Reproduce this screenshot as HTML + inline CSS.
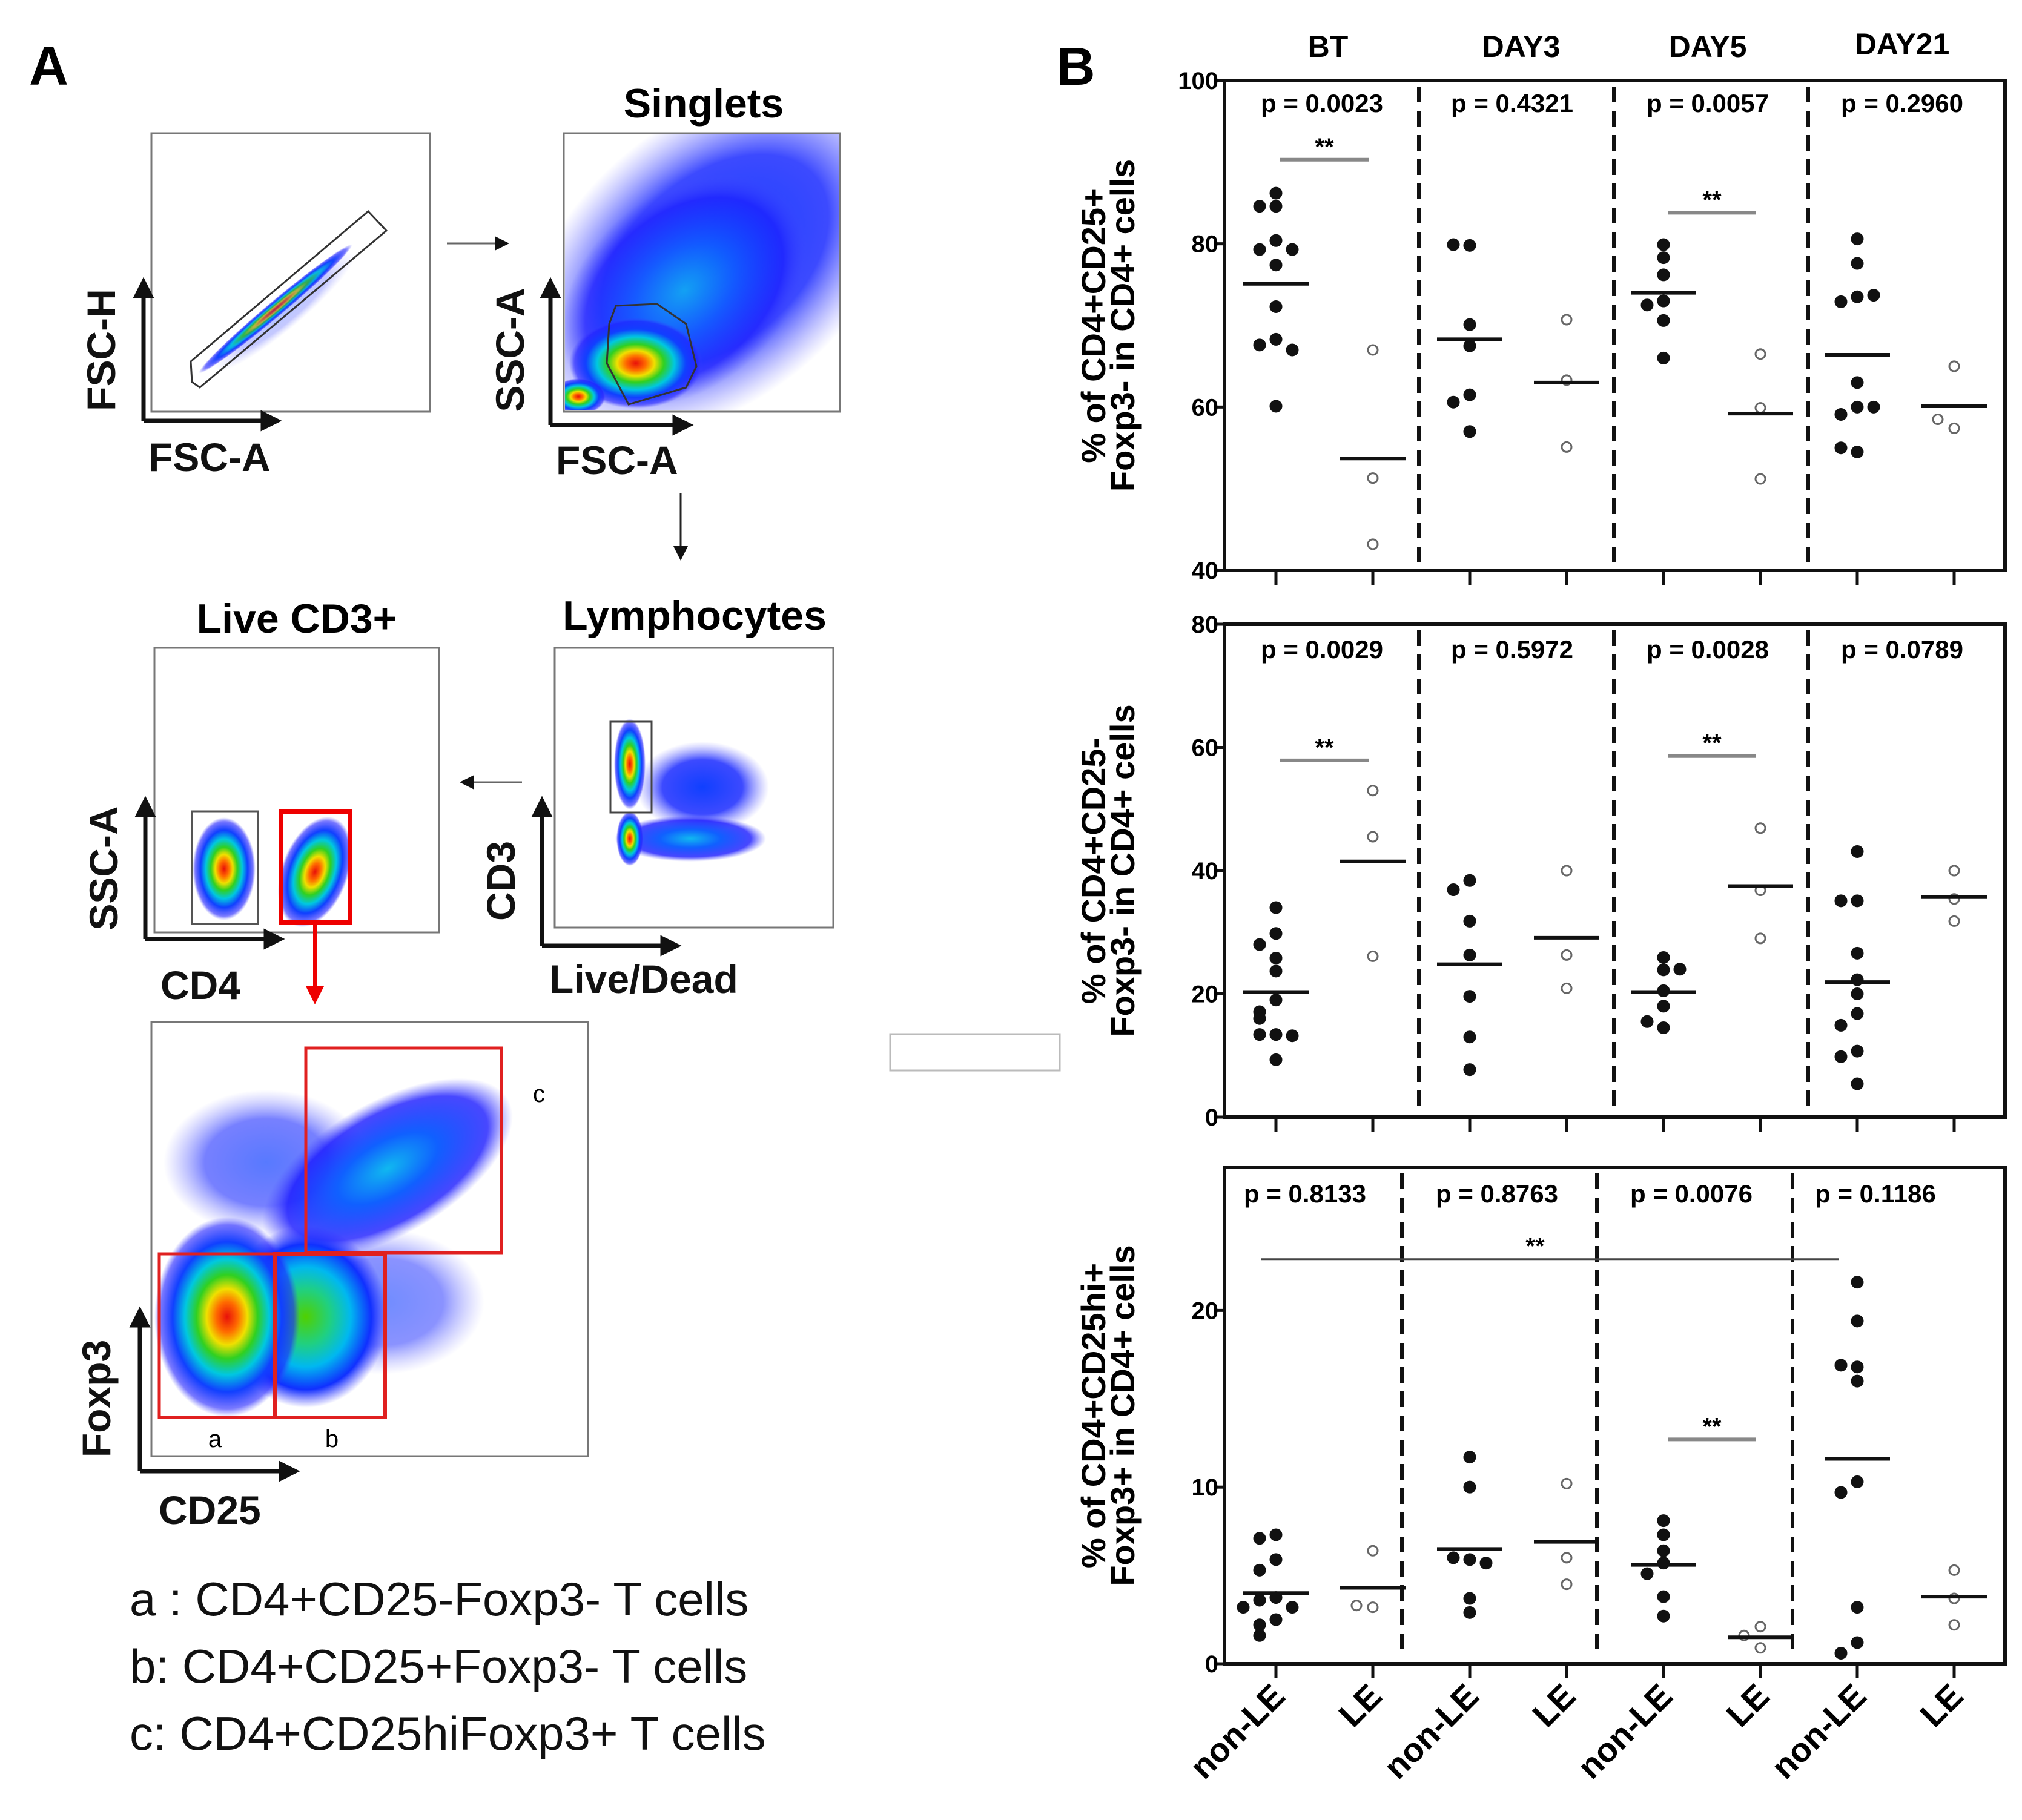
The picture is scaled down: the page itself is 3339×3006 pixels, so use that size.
<!DOCTYPE html>
<html><head><meta charset="utf-8"><style>
html,body{margin:0;padding:0;background:#fff;}
svg{display:block;font-family:"Liberation Sans",sans-serif;}
.ft{font-weight:bold;font-size:66px;fill:#111;}
.nar{font-family:"Liberation Sans Narrow","Liberation Sans",sans-serif;font-weight:bold;}
</style></head><body>
<svg id="fig" width="3339" height="3006" viewBox="0 0 3339 3006" xmlns="http://www.w3.org/2000/svg">
<defs>
<radialGradient id="heat">
<stop offset="0" stop-color="#e8100a"/><stop offset="0.15" stop-color="#ff6a00"/><stop offset="0.28" stop-color="#f0e000"/><stop offset="0.42" stop-color="#30d020"/><stop offset="0.58" stop-color="#00c8e0"/><stop offset="0.75" stop-color="#1040ff"/><stop offset="0.92" stop-color="#2020ff" stop-opacity="0.6"/><stop offset="1" stop-color="#4040ff" stop-opacity="0"/>
</radialGradient>
<radialGradient id="warm">
<stop offset="0" stop-color="#50d000"/><stop offset="0.3" stop-color="#20d080"/><stop offset="0.55" stop-color="#00b8f0"/><stop offset="0.8" stop-color="#1030ff"/><stop offset="1" stop-color="#3030ff" stop-opacity="0"/>
</radialGradient>
<radialGradient id="cool">
<stop offset="0" stop-color="#10b8f0"/><stop offset="0.4" stop-color="#1060ff"/><stop offset="0.8" stop-color="#1a1aff" stop-opacity="0.8"/><stop offset="1" stop-color="#4a4aff" stop-opacity="0"/>
</radialGradient>
<radialGradient id="haze">
<stop offset="0" stop-color="#1040ff"/><stop offset="0.6" stop-color="#1a2aff" stop-opacity="0.85"/><stop offset="1" stop-color="#6a6aff" stop-opacity="0"/>
</radialGradient>
<marker id="ah" markerWidth="5" markerHeight="5" refX="3.5" refY="2.5" orient="auto" markerUnits="strokeWidth"><path d="M0,0 L5,2.5 L0,5 z" fill="#111"/></marker>
<marker id="ahs" markerWidth="8" markerHeight="8" refX="6" refY="4" orient="auto" markerUnits="strokeWidth"><path d="M0,0 L8,4 L0,8 z" fill="#111"/></marker>
<marker id="ahr" markerWidth="5" markerHeight="5" refX="3.5" refY="2.5" orient="auto" markerUnits="strokeWidth"><path d="M0,0 L5,2.5 L0,5 z" fill="#e00"/></marker>
</defs>

<!-- PANEL A -->
<g>
<text x="48" y="140" font-size="90" font-weight="bold">A</text>

<g>
<rect x="250" y="220" width="460" height="460" fill="#fff" stroke="#777" stroke-width="3"/>
<ellipse cx="455" cy="510" rx="165" ry="13" fill="url(#heat)" transform="rotate(-40 455 510)"/>
<ellipse cx="470" cy="515" rx="150" ry="28" fill="url(#haze)" opacity="0.3" transform="rotate(-40 470 515)"/>
<polygon points="317,631 315,597 608,349 638,381 330,640" fill="none" stroke="#333" stroke-width="3"/>
<line x1="237" y1="695" x2="237" y2="468" stroke="#111" stroke-width="7" marker-end="url(#ah)"/>
<line x1="237" y1="695" x2="455" y2="695" stroke="#111" stroke-width="7" marker-end="url(#ah)"/>
<text class="ft" transform="translate(190 578) rotate(-90)" text-anchor="middle">FSC-H</text>
<text class="ft" x="245" y="778">FSC-A</text>
</g>
<line x1="738" y1="402" x2="835" y2="402" stroke="#666" stroke-width="3" marker-end="url(#ahs)"/>

<g>
<rect x="931" y="220" width="456" height="460" fill="#fff" stroke="#777" stroke-width="3"/>
<clipPath id="c2"><rect x="933" y="222" width="452" height="456"/></clipPath>
<g clip-path="url(#c2)">
<ellipse cx="1180" cy="430" rx="360" ry="230" fill="url(#haze)" transform="rotate(-40 1180 430)"/>
<ellipse cx="1130" cy="480" rx="230" ry="160" fill="url(#cool)" opacity="0.8" transform="rotate(-40 1130 480)"/>
<ellipse cx="1050" cy="600" rx="110" ry="75" fill="url(#heat)"/>
<ellipse cx="955" cy="655" rx="45" ry="30" fill="url(#heat)"/>
</g>
<polygon points="1017,505 1085,502 1133,535 1150,605 1133,640 1038,668 1002,600 1006,535" fill="none" stroke="#333" stroke-width="3"/>
<line x1="909" y1="702" x2="909" y2="468" stroke="#111" stroke-width="7" marker-end="url(#ah)"/>
<line x1="909" y1="702" x2="1135" y2="702" stroke="#111" stroke-width="7" marker-end="url(#ah)"/>
<text class="ft" transform="translate(865 578) rotate(-90)" text-anchor="middle">SSC-A</text>
<text class="ft" x="918" y="783">FSC-A</text>
<text x="1162" y="194" font-size="68" font-weight="bold" text-anchor="middle">Singlets</text>
</g>
<line x1="1124" y1="815" x2="1124" y2="920" stroke="#222" stroke-width="3" marker-end="url(#ahs)"/>

<g>
<text x="1147" y="1040" font-size="68" font-weight="bold" text-anchor="middle">Lymphocytes</text>
<rect x="916" y="1070" width="460" height="462" fill="#fff" stroke="#777" stroke-width="3"/>
<ellipse cx="1160" cy="1300" rx="110" ry="75" fill="url(#haze)"/>
<ellipse cx="1140" cy="1385" rx="125" ry="38" fill="url(#cool)"/>
<ellipse cx="1040" cy="1262" rx="26" ry="75" fill="url(#heat)"/>
<ellipse cx="1040" cy="1385" rx="22" ry="45" fill="url(#heat)"/>
<rect x="1008" y="1192" width="68" height="150" fill="none" stroke="#444" stroke-width="3"/>
<line x1="895" y1="1562" x2="895" y2="1325" stroke="#111" stroke-width="7" marker-end="url(#ah)"/>
<line x1="895" y1="1562" x2="1115" y2="1562" stroke="#111" stroke-width="7" marker-end="url(#ah)"/>
<text class="ft" transform="translate(850 1455) rotate(-90)" text-anchor="middle">CD3</text>
<text class="ft" x="907" y="1640">Live/Dead</text>
</g>
<line x1="862" y1="1292" x2="765" y2="1292" stroke="#666" stroke-width="3" marker-end="url(#ahs)"/>

<g>
<text x="490" y="1045" font-size="68" font-weight="bold" text-anchor="middle">Live CD3+</text>
<rect x="255" y="1070" width="470" height="470" fill="#fff" stroke="#777" stroke-width="3"/>
<ellipse cx="370" cy="1435" rx="52" ry="85" fill="url(#heat)"/>
<ellipse cx="520" cy="1440" rx="55" ry="95" fill="url(#heat)" transform="rotate(20 520 1440)"/>
<rect x="317" y="1340" width="109" height="186" fill="none" stroke="#555" stroke-width="3"/>
<rect x="464" y="1340" width="114" height="184" fill="none" stroke="#e00" stroke-width="8"/>
<line x1="240" y1="1551" x2="240" y2="1325" stroke="#111" stroke-width="7" marker-end="url(#ah)"/>
<line x1="240" y1="1551" x2="460" y2="1551" stroke="#111" stroke-width="7" marker-end="url(#ah)"/>
<text class="ft" transform="translate(194 1434) rotate(-90)" text-anchor="middle">SSC-A</text>
<text class="ft" x="265" y="1650">CD4</text>
</g>
<line x1="520" y1="1524" x2="520" y2="1650" stroke="#e00" stroke-width="6" marker-end="url(#ahr)"/>

<g>
<rect x="250" y="1688" width="721" height="717" fill="#fff" stroke="#777" stroke-width="3"/>
<ellipse cx="440" cy="1920" rx="170" ry="120" fill="url(#haze)" opacity="0.7"/>
<ellipse cx="640" cy="1930" rx="230" ry="110" fill="url(#cool)" transform="rotate(-30 640 1930)"/>
<ellipse cx="630" cy="2150" rx="170" ry="120" fill="url(#haze)" opacity="0.6"/>
<ellipse cx="505" cy="2175" rx="135" ry="150" fill="url(#warm)"/>
<ellipse cx="375" cy="2175" rx="120" ry="165" fill="url(#heat)"/>
<rect x="505" y="1731" width="323" height="338" fill="none" stroke="#e02020" stroke-width="5"/>
<rect x="263" y="2071" width="191" height="270" fill="none" stroke="#e02020" stroke-width="5"/>
<rect x="454" y="2071" width="182" height="270" fill="none" stroke="#e02020" stroke-width="6"/>
<text x="355" y="2390" font-size="40" text-anchor="middle">a</text>
<text x="548" y="2390" font-size="40" text-anchor="middle">b</text>
<text x="890" y="1820" font-size="40" text-anchor="middle">c</text>
<line x1="231" y1="2430" x2="231" y2="2168" stroke="#111" stroke-width="7" marker-end="url(#ah)"/>
<line x1="231" y1="2430" x2="485" y2="2430" stroke="#111" stroke-width="7" marker-end="url(#ah)"/>
<text class="ft" transform="translate(182 2310) rotate(-90)" text-anchor="middle">Foxp3</text>
<text class="ft" x="262" y="2517">CD25</text>
</g>
<g font-size="78" fill="#111">
<text x="214" y="2668">a : CD4+CD25-Foxp3- T cells</text>
<text x="214" y="2779">b:  CD4+CD25+Foxp3- T cells</text>
<text x="214" y="2890">c:  CD4+CD25hiFoxp3+ T cells</text>
</g>
<rect x="1470" y="1708" width="280" height="60" fill="none" stroke="#bbb" stroke-width="3"/>
</g>

<!-- PANEL B -->
<g id="pb">
<text x="1745" y="140" font-size="88" font-weight="bold">B</text>
</g>
</svg>
<script>
// ---- data ----
const timepoints = ["BT","DAY3","DAY5","DAY21"];
const groups = ["non-LE","LE"];
// Panel 1: % CD4+CD25+Foxp3-
const p1NonLE = [[86.2,84.6,84.6,80.4,79.3,79.3,77.4,72.3,68.3,67.6,67.0,60.1],[79.8,79.9,70.1,67.5,61.5,60.6,57.0],[79.9,78.3,76.2,73.0,72.5,70.6,66.0],[80.6,77.6,73.5,72.9,73.7,63.0,60.0,59.1,60.0,54.5,55.0]];
const p1LE = [[67.0,51.3,43.2],[70.7,63.3,55.1],[66.5,59.9,51.2],[65.0,57.4,58.5]];
const p1MeanNonLE = [75.1,68.3,74.0,66.4];
const p1MeanLE = [53.7,63.0,59.2,60.1];
const p1P = ["p = 0.0023","p = 0.4321","p = 0.0057","p = 0.2960"];
const p1Sig = [90.3,null,83.8,null];
const p1Ticks = [40,60,80,100];
// Panel 2: % CD4+CD25-Foxp3-
const p2NonLE = [[34.0,29.8,28.0,25.8,23.7,19.0,17.1,16.0,13.4,13.4,13.2,9.3],[38.4,36.9,31.8,26.3,19.6,13.0,7.7],[25.9,23.9,24.0,20.5,18.0,14.5,15.5],[43.1,35.1,35.1,26.6,22.3,20.0,16.8,14.9,10.7,9.8,5.4]];
const p2LE = [[53.0,45.5,26.1],[40.0,26.3,20.9],[46.9,36.8,29.0],[40.0,35.4,31.8]];
const p2MeanNonLE = [20.3,24.8,20.3,21.9];
const p2MeanLE = [41.5,29.1,37.5,35.7];
const p2P = ["p = 0.0029","p = 0.5972","p = 0.0028","p = 0.0789"];
const p2Sig = [57.9,null,58.6,null];
const p2Ticks = [0,20,40,60,80];
// Panel 3: % CD4+CD25hi+Foxp3+
const p3NonLE = [[7.3,7.1,5.9,5.3,3.75,3.6,3.2,3.2,2.5,2.2,1.6],[11.7,10.0,5.9,6.0,5.7,3.7,2.9],[8.1,7.3,6.4,5.7,5.1,3.8,2.7],[21.6,19.4,16.8,16.9,16.0,10.3,9.7,3.2,1.2,0.6]];
const p3LE = [[6.4,3.2,3.3],[10.2,6.0,4.5],[2.1,1.6,0.9],[5.3,3.7,2.2]];
const p3MeanNonLE = [4.0,6.5,5.6,11.6];
const p3MeanLE = [4.3,6.9,1.5,3.8];
const p3P = ["p = 0.8133","p = 0.8763","p = 0.0076","p = 0.1186"];
const p3Sig = [null,null,12.7,null];
const p3Ticks = [0,10,20];
const p3LongSig = 22.9;

const NS="http://www.w3.org/2000/svg";
const root=document.getElementById('pb');
function mk(tag,attrs,parent){const e=document.createElementNS(NS,tag);for(const k in attrs)e.setAttribute(k,attrs[k]);(parent||root).appendChild(e);return e;}

const X0=2022,X1=3311,T0=2107,TS=160;
function xPos(t,g){return T0+(t*2+g)*TS;}

// headers
timepoints.forEach((tp,i)=>{
  const hx=[2193,2512,2820,3141][i];
  const t=mk('text',{x:hx,y:(i==3?90:94),'font-size':50,'font-weight':'bold','text-anchor':'middle',class:'nar'});
  t.textContent=tp;
  
  
});

function panel(cfg){
  const g=mk('g',{});
  
  
  const ymin=cfg.ymin,ymax=cfg.ymax,top=cfg.top,bot=cfg.bot;
  const y=v=>bot-(v-ymin)/(ymax-ymin)*(bot-top);
  const fr=mk('rect',{x:X0,y:top,width:X1-X0,height:bot-top,fill:'none',stroke:'#111','stroke-width':6},g);
  
  
  cfg.ticks.forEach(v=>{
    mk('line',{x1:X0-12,x2:X0,y1:y(v),y2:y(v),stroke:'#111','stroke-width':5},g);
    const t=mk('text',{x:X0-10,y:y(v)+14,'font-size':40,'text-anchor':'end',class:'nar'},g);
    t.textContent=v;
    
    
  });
  for(let t=0;t<4;t++)for(let k=0;k<2;k++){
    mk('line',{x1:xPos(t,k),x2:xPos(t,k),y1:bot,y2:bot+24,stroke:'#111','stroke-width':5},g);
  }
  cfg.dash.forEach(dx=>{
    const d=mk('line',{x1:dx,x2:dx,y1:top+10,y2:bot-12,stroke:'#111','stroke-width':6,'stroke-dasharray':'26 14'},g);
    
    
  });
  const yt=mk('text',{transform:`translate(${cfg.ytx} ${(top+bot)/2}) rotate(-90)`,'font-size':56,'font-weight':'bold','text-anchor':'middle'},g);
  
  
  const s1=mk('tspan',{x:0,dy:0},yt);s1.textContent=cfg.title[0];
  const s2=mk('tspan',{x:0,dy:48},yt);s2.textContent=cfg.title[1];
  cfg.p.forEach((pv,i)=>{
    const t=mk('text',{x:cfg.px[i],y:top+cfg.pdy,'font-size':42,'font-weight':'bold','text-anchor':'middle',class:'nar'},g);
    t.textContent=pv;
    
    
  });
  function pts(vals,t,k,filled){
    const placed=[];
    vals.forEach(v=>{
      const cy=y(v);
      const near=placed.filter(p=>Math.abs(p-cy)<20).length;
      const off=[0,-27,27,-54,54][near%5];
      placed.push(cy);
      const c=mk('circle',{cx:xPos(t,k)+off,cy:cy,r:filled?10:8,fill:filled?'#111':'#fff',stroke:filled?'#111':'#666','stroke-width':filled?1:3},g);
      
      
    });
  }
  for(let t=0;t<4;t++){
    pts(cfg.non[t],t,0,true);
    pts(cfg.le[t],t,1,false);
    [[cfg.mNon[t],0],[cfg.mLe[t],1]].forEach(([m,k])=>{
      const l=mk('line',{x1:xPos(t,k)-54,x2:xPos(t,k)+54,y1:y(m),y2:y(m),stroke:'#111','stroke-width':6},g);
      
      
    });
    if(cfg.sig[t]!=null){
      const sy=y(cfg.sig[t]);
      const l=mk('line',{x1:xPos(t,0)+7,x2:xPos(t,1)-7,y1:sy,y2:sy,stroke:'#888','stroke-width':6},g);
      
      
      const st=mk('text',{x:(xPos(t,0)+xPos(t,1))/2,y:sy-8,'font-size':40,'font-weight':'bold','text-anchor':'middle'},g);
      st.textContent='**';
      
      
    }
  }
  return {g,y};
}

panel({name:'chart-cd25pos',ymin:40,ymax:100,top:133,bot:942,ticks:p1Ticks,dash:[2343,2665,2986],ytx:1825,
  title:['% of CD4+CD25+','Foxp3- in CD4+ cells'],p:p1P,px:[2183,2497,2820,3141],pdy:52,
  non:p1NonLE,le:p1LE,mNon:p1MeanNonLE,mLe:p1MeanLE,sig:p1Sig});
panel({name:'chart-cd25neg',ymin:0,ymax:80,top:1031,bot:1845,ticks:p2Ticks,dash:[2343,2665,2986],ytx:1825,
  title:['% of CD4+CD25-','Foxp3- in CD4+ cells'],p:p2P,px:[2183,2497,2820,3141],pdy:56,
  non:p2NonLE,le:p2LE,mNon:p2MeanNonLE,mLe:p2MeanLE,sig:p2Sig});
const P3=panel({name:'chart-treg',ymin:0,ymax:28.1,top:1928,bot:2748,ticks:p3Ticks,dash:[2315,2637,2960],ytx:1825,
  title:['% of CD4+CD25hi+','Foxp3+ in CD4+ cells'],p:p3P,px:[2155,2472,2793,3097],pdy:58,
  non:p3NonLE,le:p3LE,mNon:p3MeanNonLE,mLe:p3MeanLE,sig:p3Sig});
const ly=P3.y(p3LongSig);
const ll=mk('line',{x1:2082,x2:3036,y1:ly,y2:ly,stroke:'#444','stroke-width':3},P3.g);


const ls=mk('text',{x:2535,y:ly-8,'font-size':40,'font-weight':'bold','text-anchor':'middle'},P3.g);
ls.textContent='**';



for(let t=0;t<4;t++)for(let k=0;k<2;k++){
  const x=xPos(t,k)+18,yy=2805;
  const tx=mk('text',{x:x,y:yy,transform:`rotate(-45 ${x} ${yy})`,'font-size':56,'font-weight':'bold','text-anchor':'end'});
  tx.textContent=groups[k];
  
  
}
</script>
</body></html>
